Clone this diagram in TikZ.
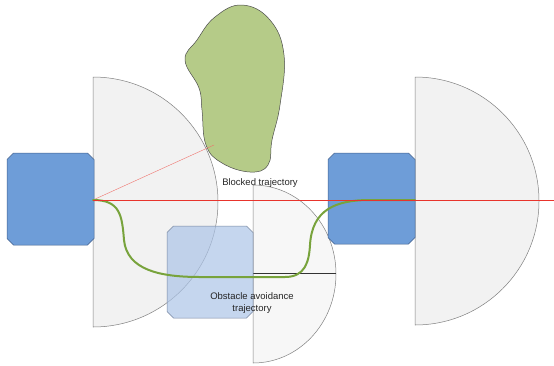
\documentclass[tikz,border=0pt]{standalone}
\usepackage{fontspec}
\setmainfont{Liberation Sans}
\definecolor{vblue}{RGB}{110,157,216}
\definecolor{vborder}{RGB}{66,96,140}
\definecolor{lblue}{RGB}{172,196,231}
\definecolor{lborder}{RGB}{120,135,160}
\definecolor{discfill}{RGB}{242,242,242}
\definecolor{discline}{RGB}{128,128,128}
\definecolor{blobfill}{RGB}{181,203,136}
\definecolor{pathgreen}{RGB}{120,163,60}
\definecolor{redline}{RGB}{232,52,44}
\newcommand\octpath[4]{(#1+6.5,#2) -- (#3-6.5,#2) -- (#3,#2+6.5) -- (#3,#4-6.5) -- (#3-6.5,#4) -- (#1+6.5,#4) -- (#1,#4-6.5) -- (#1,#2+6.5) -- cycle}
\tikzset{
  disc/.style={fill=discfill, draw=discline, line width=0.5pt},
  ghostdisc/.style={fill=white!97!black, draw=discline, line width=0.5pt},
  vehicle/.style={fill=vblue, draw=vborder, line width=0.5pt},
  ghostvehicle/.style={fill=lblue, fill opacity=0.7, draw=lborder, line width=0.5pt},
  lab/.style={font=\fontsize{9.5}{11.5}\selectfont, text=black!85, align=center},
  trajgreen/.style={draw=pathgreen, line width=2pt, line cap=round}
}
\begin{document}
\begin{tikzpicture}[x=1pt,y=-1pt]
\useasboundingbox (0,0) rectangle (554,365);
% sensing half-discs
\draw[disc] (93,77) arc[start angle=-90,end angle=90,radius=125] -- cycle;
\draw[disc] (415,77) arc[start angle=-90,end angle=90,radius=124] -- cycle;
\draw[ghostdisc] (253,185) arc[start angle=-90,end angle=90,x radius=83,y radius=89] -- cycle;
\draw[draw=black!80, line width=0.5pt] (253,273) -- (336,273);
% obstacle
\draw[fill=blobfill, draw=black!70, line width=0.5pt] plot[smooth cycle, tension=0.7] coordinates {
  (242,5) (270,20) (284,55) (280,105) (272,140) (268,165) (250,172) (222,163)
  (206,145) (202,110) (199,88) (185,60) (197,40) (215,17)};
% vehicles
\draw[vehicle] \octpath{7}{153}{94}{245};
\draw[vehicle] \octpath{328}{153}{415}{244};
\draw[ghostvehicle] \octpath{167}{226}{253}{318};
% trajectories
\coordinate (start) at (93,200);
\coordinate (far) at (554,200);
\coordinate (hit) at (214,145);
\coordinate (goal) at (415,200);
\draw[redline!70, line width=0.4pt] (start) -- (hit);
\draw[trajgreen] (start) .. controls (120,200) and (122,215) .. (124,240)
  .. controls (127,270) and (160,277) .. (200,277) -- (285,277)
  .. controls (305,277) and (309,262) .. (310,245)
  .. controls (312,210) and (335,200) .. (370,200) -- (goal);
\draw[redline, line width=1pt] (start) -- (far);
% labels
\node[lab] (blocked) at (260,183) {Blocked trajectory};
\node[lab] (avoid) at (252,303) {Obstacle avoidance\\trajectory};
\end{tikzpicture}
\end{document}
